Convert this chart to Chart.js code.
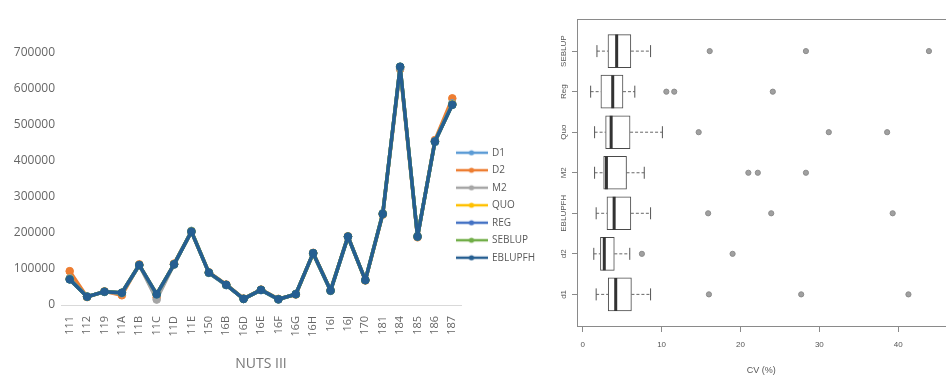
<!DOCTYPE html>
<html><head><meta charset="utf-8">
<script src="https://cdn.jsdelivr.net/npm/chart.js@4.4.1/dist/chart.umd.min.js"></script>
<style>
html,body{margin:0;padding:0;background:#fff;width:950px;height:376px;overflow:hidden;}
#wrap{position:relative;width:950px;height:376px;overflow:hidden;background:#fff;}
#c1{position:absolute;left:0;top:0;width:545px;height:376px;}
#c2{position:absolute;left:545px;top:0;width:420px;height:376px;}
</style></head><body>
<div id="wrap">
<div id="c1"><canvas id="lineChart"></canvas></div>
<div id="c2"><canvas id="boxChart"></canvas></div>
</div>
<script>
// ---------- Left chart data ----------
const nutsCodes = ['111','112','119','11A','11B','11C','11D','11E','150','16B','16D','16E','16F','16G','16H','16I','16J','170','181','184','185','186','187'];
const seriesNames = ['D1','D2','M2','QUO','REG','SEBLUP','EBLUPFH'];
const seriesColors = ['#5B9BD5','#ED7D31','#A5A5A5','#FFC000','#4472C4','#70AD47','#255E91'];
const d1      = [74000,24000,36000,33000,110000,29000,112000,206000,89000,55000,17000,41000,15000,31000,142000,39000,189000,70000,255000,658000,192000,452000,560000];
const d2      = [94000,22000,38000,27000,113000,21000,115000,203000,91000,57000,18000,43000,17000,29000,145000,41000,191000,68000,251000,655000,188000,458000,574000];
const m2      = [72000,23000,37000,33000,111000,15000,113000,204000,90000,56000,17000,42000,16000,30000,144000,40000,190000,69000,253000,660000,190000,454000,557000];
const quo     = [73000,23000,37000,34000,111000,30000,113000,205000,90000,56000,17000,42000,16000,30000,143000,40000,190000,69000,254000,661000,191000,454000,558000];
const reg     = [72000,23000,37000,34000,111000,29000,113000,204000,90000,56000,17000,42000,16000,30000,144000,40000,190000,69000,253000,661000,190000,455000,557000];
const seblup  = [71000,23000,37000,34000,111000,30000,113000,204000,90000,56000,17000,42000,16000,30000,144000,40000,190000,69000,253000,662000,190000,454000,556000];
const eblupfh = [71000,23000,37000,34000,111000,30000,113000,204000,90000,56000,17000,42000,16000,30000,144000,40000,190000,69000,253000,662000,190000,454000,556000];
const seriesValues = [d1,d2,m2,quo,reg,seblup,eblupfh];
const leftYTicks = [0,100000,200000,300000,400000,500000,600000,700000];

// ---------- Right chart (box plot) data ----------
const boxCats = ['SEBLUP','Reg','Quo','M2','EBLUPFH','d2','d1'];
const whiskLo = [1.8, 1.0, 1.5, 1.5, 1.7, 1.4, 1.7];
const q1      = [3.2, 2.3, 2.9, 2.65, 3.07, 2.24, 3.23];
const median  = [4.3, 3.8, 3.6, 3.0, 3.98, 2.73, 4.18];
const q3      = [6.1, 5.1, 6.0, 5.55, 6.1, 4.0, 6.17];
const whiskHi = [8.6, 6.6, 10.1, 7.8, 8.6, 5.96, 8.6];
const outliers = [[16.1,28.3,43.9],[10.6,11.6,24.1],[14.7,31.2,38.6],[21.0,22.2,28.3],[15.9,23.9,39.3],[7.5,19.0],[16.0,27.7,41.3]];
const boxXTicks = [0,10,20,30,40];

Chart.defaults.font.family = "'Open Sans', sans-serif";
Chart.defaults.animation = false;

// legend icons: line with a dot
const legendIcons = seriesColors.map(c => {
  const cv = document.createElement('canvas');
  cv.width = 32; cv.height = 8;
  const g = cv.getContext('2d');
  g.strokeStyle = c; g.lineWidth = 2.5;
  g.beginPath(); g.moveTo(0,4); g.lineTo(32,4); g.stroke();
  g.fillStyle = c; g.beginPath(); g.arc(16,4,2.6,0,Math.PI*2); g.fill();
  return cv;
});

const legendPlace = {
  id: 'legendPlace',
  afterLayout(chart) {
    const lg = chart.legend; if (!lg) return;
    const dx = 448.5 - lg.left, dy = -9.3;
    lg.left += dx; lg.top += dy; lg.bottom += dy;
    lg.width = lg.right - lg.left;
  }
};

const orders = [5,6,4,3,2,1,0];
new Chart(document.getElementById('lineChart'), {
  type: 'line',
  data: {
    labels: nutsCodes,
    datasets: seriesNames.map((n,i) => ({
      label: n,
      data: seriesValues[i],
      borderColor: seriesColors[i],
      backgroundColor: seriesColors[i],
      pointBackgroundColor: seriesColors[i],
      pointBorderColor: seriesColors[i],
      borderWidth: 3.5,
      borderJoinStyle: 'round',
      borderCapStyle: 'round',
      pointRadius: 3.8,
      pointBorderWidth: 1,
      tension: 0,
      order: orders[i]
    }))
  },
  options: {
    responsive: true, maintainAspectRatio: false,
    layout: { padding: { top: 53, left: 0, right: 0, bottom: 0 } },
    plugins: {
      tooltip: { enabled: false },
      legend: {
        position: 'right', maxWidth: 84,
        labels: {
          usePointStyle: true, pointStyleWidth: 31, padding: 7.5,
          color: '#595959', font: { size: 10 },
          generateLabels: chart => {
            const items = Chart.defaults.plugins.legend.labels.generateLabels(chart);
            items.sort((a,b) => a.datasetIndex - b.datasetIndex);
            items.forEach(it => { it.pointStyle = legendIcons[it.datasetIndex]; });
            return items;
          }
        }
      }
    },
    scales: {
      x: {
        type: 'category', offset: true,
        afterFit: s => { s.height = 71; },
        grid: { display: false, drawTicks: false },
        border: { display: true, color: '#D9D9D9', width: 1 },
        ticks: { autoSkip: false, minRotation: 90, maxRotation: 90, padding: 11, color: '#666', font: { size: 11 } },
        title: { display: true, text: 'NUTS III', color: '#777', font: { size: 14 }, padding: { top: 0, bottom: 4 } }
      },
      y: {
        type: 'linear', min: 0, max: 700000,
        afterFit: s => { s.width = 61; },
        afterBuildTicks: s => { s.ticks = leftYTicks.map(v => ({ value: v })); },
        grid: { display: false, drawTicks: false },
        border: { display: false },
        ticks: { padding: 6, color: '#666', font: { size: 12 }, callback: v => String(v) }
      }
    }
  },
  plugins: [legendPlace]
});

// ---------- box plot ----------
const pos = i => boxCats.length - i;
const lowerWhiskers = [], upperWhiskers = [], caps = [], medians = [], outlierPts = [];
boxCats.forEach((c,i) => {
  lowerWhiskers.push({x: whiskLo[i], y: pos(i)}, {x: q1[i], y: pos(i)}, {x: q1[i], y: null});
  upperWhiskers.push({x: q3[i], y: pos(i)}, {x: whiskHi[i], y: pos(i)}, {x: whiskHi[i], y: null});
  caps.push({x: whiskLo[i], y: pos(i)}, {x: whiskHi[i], y: pos(i)});
  medians.push({x: median[i], y: pos(i)});
  outliers[i].forEach(v => outlierPts.push({x: v, y: pos(i)}));
});
const axisGray = '#8a8a8a';
const rFont = "'Liberation Sans', Arial, sans-serif";
new Chart(document.getElementById('boxChart'), {
  type: 'scatter',
  data: {
    datasets: [
      { type: 'bar', indexAxis: 'y', data: boxCats.map((c,i) => ({x: [q1[i], q3[i]], y: pos(i)})),
        backgroundColor: '#ffffff', borderColor: '#4a4a4a', borderWidth: 1, borderSkipped: false,
        barThickness: 33, order: 5 },
      { type: 'line', data: lowerWhiskers, borderColor: '#666', borderWidth: 1, borderDash: [3,2],
        pointRadius: 0, spanGaps: false, order: 4 },
      { type: 'line', data: upperWhiskers, borderColor: '#666', borderWidth: 1, borderDash: [3,2],
        pointRadius: 0, spanGaps: false, order: 4 },
      { type: 'scatter', data: caps, pointStyle: 'line', pointRotation: 90, pointRadius: 6,
        pointBorderColor: '#555', pointBorderWidth: 1, order: 3 },
      { type: 'scatter', data: medians, pointStyle: 'line', pointRotation: 90, pointRadius: 16.5,
        pointBorderColor: '#333', pointBorderWidth: 3, order: 2 },
      { type: 'scatter', data: outlierPts, pointStyle: 'circle', pointRadius: 2.6,
        pointBackgroundColor: '#a0a0a0', pointBorderColor: '#8c8c8c', pointBorderWidth: 1, order: 1 }
    ]
  },
  options: {
    responsive: true, maintainAspectRatio: false,
    layout: { padding: { top: 16, left: 0, right: 10, bottom: 0 } },
    plugins: { legend: { display: false }, tooltip: { enabled: false } },
    scales: {
      x: {
        type: 'linear', min: -0.73, max: 46, offset: false, position: 'bottom',
        afterFit: s => { s.height = 50; },
        afterBuildTicks: s => { s.ticks = boxXTicks.map(v => ({ value: v })); },
        grid: { drawOnChartArea: false, drawTicks: true, tickLength: 6, color: axisGray, offset: false },
        border: { display: true, color: axisGray, width: 1 },
        ticks: { padding: 8, color: '#555', maxRotation: 0, autoSkip: false, font: { size: 8, family: rFont } },
        title: { display: true, text: 'CV (%)', color: '#555', font: { size: 9, family: rFont }, padding: { top: 0, bottom: 0 } }
      },
      xTop: {
        type: 'linear', position: 'top', min: -0.73, max: 46, offset: false,
        ticks: { display: false },
        grid: { display: false, drawTicks: false },
        border: { display: true, color: axisGray, width: 1 }
      },
      y: {
        type: 'linear', min: 0.22, max: 7.78, offset: false,
        afterFit: s => { s.width = 32; },
        afterBuildTicks: s => { s.ticks = boxCats.map((c,i) => ({ value: pos(i) })); },
        grid: { drawOnChartArea: false, drawTicks: true, tickLength: 5, color: axisGray, offset: false },
        border: { display: true, color: axisGray, width: 1 },
        ticks: { minRotation: 90, maxRotation: 90, crossAlign: 'center', padding: -10, color: '#555',
                 font: { size: 8, family: rFont }, callback: v => boxCats[boxCats.length - v] }
      }
    }
  }
});
</script>
</body></html>
